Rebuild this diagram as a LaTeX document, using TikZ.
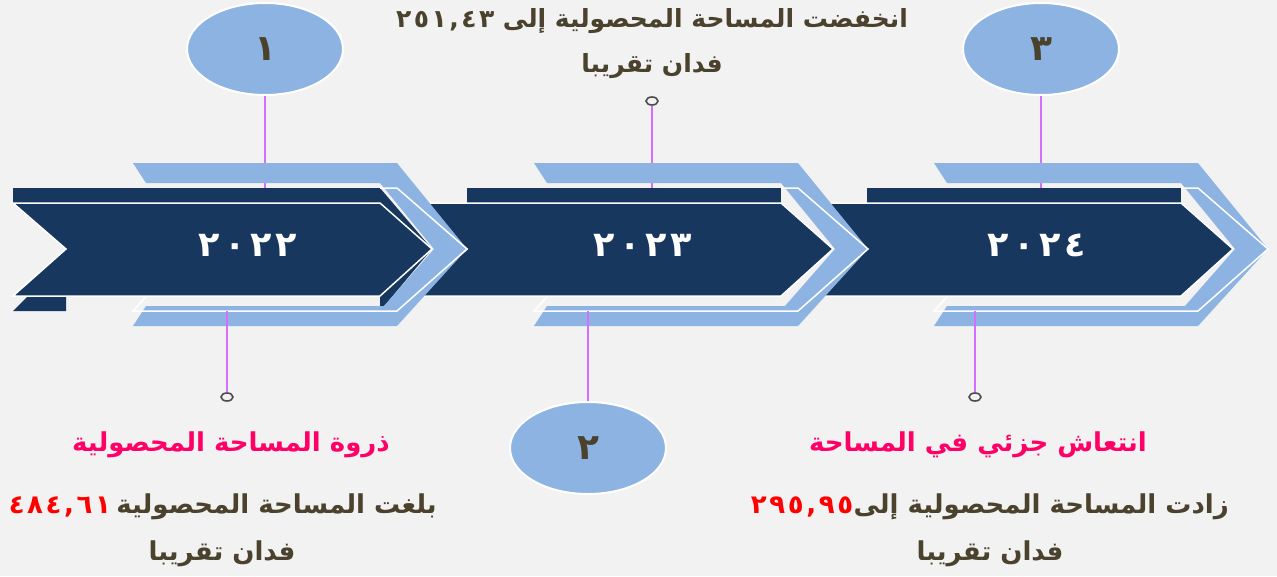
\documentclass[tikz,border=0pt]{standalone}
\usepackage{fontspec}
\newfontfamily\arabicfont[Script=Arabic]{DejaVu Sans}
\TeXXeTstate=1
\usetikzlibrary{shapes.geometric, positioning}

\definecolor{navy}{HTML}{17375E}
\definecolor{lightblue}{HTML}{8DB3E2}
\definecolor{stem}{HTML}{D46EFF}
\definecolor{olive}{HTML}{4A422D}
\definecolor{rose}{HTML}{FF0066}
\definecolor{pagegray}{HTML}{F2F2F2}

\tikzstyle{bubble} = [ellipse, draw=white, line width=2pt, fill=lightblue, minimum width=156pt, minimum height=92pt, inner sep=0pt, text=olive, font=\arabicfont\bfseries\fontsize{36}{36}\selectfont]
\tikzstyle{pin} = [ellipse, draw=black!70, line width=1.6pt, fill=pagegray, minimum width=12pt, minimum height=8pt, inner sep=0pt]
\tikzstyle{stemline} = [draw=stem, line width=2.5pt]
\tikzstyle{rim} = [draw=white, line width=1.5pt, line join=miter]
\tikzstyle{year} = [text=white, inner sep=0pt, font=\arabicfont\bfseries\fontsize{35}{35}\selectfont]
\tikzstyle{headline} = [text=rose, inner sep=0pt, font=\arabicfont\bfseries\fontsize{26}{26}\selectfont]
\tikzstyle{body} = [text=olive, inner sep=0pt, align=center, font=\arabicfont\bfseries\fontsize{26}{45}\selectfont]
\tikzstyle{figure} = [text=red, inner sep=0pt, font=\arabicfont\bfseries\fontsize{26}{26}\selectfont]

\newcommand{\yearchevron}[1]{%
  \begin{scope}[xshift=#1pt]
    \fill[lightblue] (133,163) -- (397,163) -- (467,249) -- (397,326) -- (133,326) -- (146,306) -- (384,306) -- (434,249) -- (380,183) -- (146,183) -- cycle;
    \draw[rim] (146,297) -- (133,311) -- (397,311) -- (467,249) -- (397,188) -- (380,188);
    \fill[navy] (66,188) rectangle (380,203);
    \fill[navy] (13,203) -- (380,203) -- (432,249) -- (380,296) -- (13,296) -- (66,249) -- cycle;
    \draw[rim] (13,203) -- (380,203) -- (432,249) -- (380,296) -- (13,296) -- (66,249) -- cycle;
  \end{scope}}
\newcommand{\gap}{\hspace{0.1em}}

\begin{document}
\begin{tikzpicture}[x=1pt, y=-1pt]
\useasboundingbox (0,0) rectangle (1277,576);
\fill[pagegray] (0,0) rectangle (1277,576);

% numbered bubbles and pins
\node (one) [bubble] at (265,49) {١};
\node (three) [bubble] at (1041,49) {٣};
\node (two) [bubble] at (588,448) {٢};
\node (pinmid) [pin] at (652,101) {};
\node (pinleft) [pin] at (227,397) {};
\node (pinright) [pin] at (975,397) {};

\coordinate (top1) at (265,188);
\coordinate (topmid) at (652,188);
\coordinate (top3) at (1041,188);
\coordinate (base1) at (227,311);
\coordinate (base2) at (588,311);
\coordinate (base3) at (975,311);

% stems above the arrows
\draw[stemline] (one) -- (top1);
\draw[stemline] (pinmid) -- (topmid);
\draw[stemline] (three) -- (top3);

% arrows, drawn right to left
\yearchevron{801}
\yearchevron{401}
\fill[navy] (13,188) rectangle (66,203);
\fill[navy] (28,296) -- (66,296) -- (66,311) -- (13,311) -- cycle;
\fill[navy] (380,188) -- (432,249) -- (380,311) -- cycle;
\yearchevron{0}

\node (y2022) [year] at (248,245) {٢\hspace{0.12em}٠\hspace{0.12em}٢\hspace{0.12em}٢};
\node (y2023) [year] at (643,245) {٢\hspace{0.12em}٠\hspace{0.12em}٢\hspace{0.12em}٣};
\node (y2024) [year] at (1037,245) {٢\hspace{0.12em}٠\hspace{0.12em}٢\hspace{0.12em}٤};

% stems below the arrows
\draw[stemline] (base1) -- (pinleft);
\draw[stemline] (base2) -- (two);
\draw[stemline] (base3) -- (pinright);

% texts
\node (drop) [body, font=\arabicfont\bfseries\fontsize{25}{45}\selectfont] at (652,44) {\beginR انخفضت المساحة المحصولية إلى \beginL٢\gap٥\gap١\gap,\gap٤\gap٣\endL\endR\\\beginR فدان تقريبا\endR};

\node (peak) [headline] at (231,445) {\beginR ذروة المساحة المحصولية\endR};
\node (peakline) [body, anchor=east] at (437,507) {\beginR بلغت المساحة المحصولية\endR};
\node (peakval) [figure, left=5pt of peakline] {\beginL٤\gap٨\gap٤\gap,\gap٦\gap١\endL};
\node (peakunit) [body] at (222,554) {\beginR فدان تقريبا\endR};

\node (rise) [headline] at (978,445) {\beginR انتعاش جزئي في المساحة\endR};
\node (riseline) [body, anchor=east] at (1229,507) {\beginR زادت المساحة المحصولية إلى\endR};
\node (riseval) [figure, left=0pt of riseline] {\beginL٢\gap٩\gap٥\gap,\gap٩\gap٥\endL};
\node (riseunit) [body] at (990,554) {\beginR فدان تقريبا\endR};
\end{tikzpicture}
\end{document}
